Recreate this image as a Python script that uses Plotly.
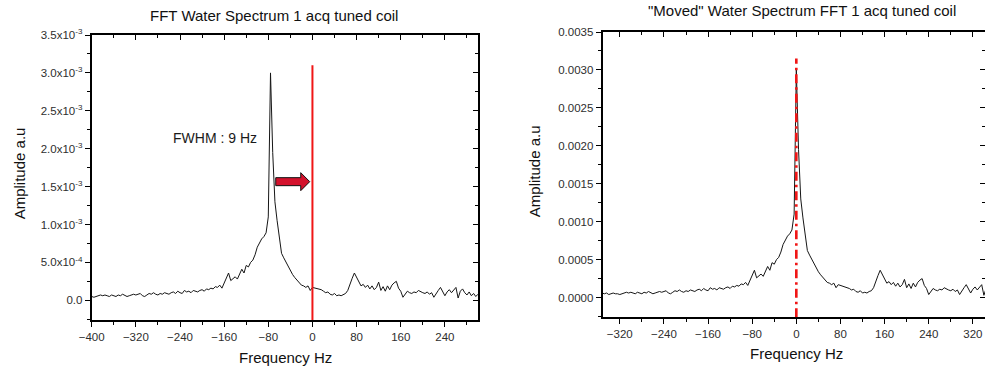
import numpy as np
import plotly.graph_objects as go

# ---------------------------------------------------------------------------
# Data: magnitude spectrum of the water signal (1 acquisition, tuned coil)
# ---------------------------------------------------------------------------
FREQ_START_HZ = -428
FREQ_STEP_HZ = 4

# amplitude in units of 1e-4 a.u., one value per 4 Hz bin starting at -428 Hz
amp_e4 = [
    0.6, 0.5, 0.6, 0.4, 0.5, 0.6, 0.5, 0.5, 0.4, 0.5,   # -428 .. -392
    0.7, 0.7, 0.6, 0.7, 0.6, 0.5, 0.7, 0.6, 0.5, 0.7,   # -388 .. -352
    0.6, 0.8, 0.7, 0.5, 0.6, 0.7, 0.8, 0.7, 0.8, 0.9,   # -348 .. -312
    0.6, 0.5, 0.7, 0.9, 0.8, 1.0, 0.8, 0.7, 0.9, 0.8,   # -308 .. -272
    1.0, 0.9, 0.8, 1.0, 1.1, 0.9, 1.2, 1.0, 0.9, 1.3,   # -268 .. -232
    1.1, 1.2, 1.0, 1.3, 1.2, 1.1, 1.3, 1.4, 1.2, 1.5,   # -228 .. -192
    1.4, 1.6, 1.5, 1.8, 1.7, 2.0, 1.6, 2.2, 2.9, 3.6,   # -188 .. -152
    2.6, 2.9, 3.1, 2.8, 3.5, 4.1, 3.6, 4.6, 4.4, 5.0,   # -148 .. -112
    5.3, 6.0, 7.0, 7.6, 8.1, 8.4, 8.9, 11.0, 30.0, 19.5,  # -108 .. -72
    13.0, 10.5, 8.3, 6.2, 5.6, 5.0, 4.5, 3.8, 3.4, 3.0,  # -68 .. -32
    2.7, 2.3, 2.0, 1.9, 1.7, 1.9, 1.3, 1.7, 1.6, 1.6,   # -28 .. 8
    1.5, 1.4, 1.2, 1.0, 1.1, 0.8, 0.7, 0.9, 0.6, 0.7,   # 12 .. 48
    0.6, 0.8, 0.9, 1.3, 2.2, 2.9, 3.6, 3.0, 2.4, 1.9,   # 52 .. 88
    2.1, 1.7, 2.0, 1.5, 1.9, 1.4, 1.7, 2.4, 1.3, 1.8,   # 92 .. 128
    1.2, 1.9, 1.4, 2.0, 2.3, 2.5, 1.6, 1.2, 0.4, 0.8,   # 132 .. 168
    1.2, 1.0, 0.9, 1.1, 1.0, 1.3, 1.1, 1.0, 0.9, 1.1,   # 172 .. 208
    0.8, 1.0, 0.4, 0.9, 1.3, 1.7, 1.2, 0.6, 1.1, 1.4,   # 212 .. 248
    1.0, 1.3, 1.7, 0.3, 1.2, 1.5, 1.0, 0.7, 1.1, 0.6,   # 252 .. 288
    0.9, 0.5, 0.8,                                      # 292 .. 300
]

freq_hz = FREQ_START_HZ + FREQ_STEP_HZ * np.arange(len(amp_e4))
amplitude = np.array(amp_e4) * 1e-4

# frequency offset applied to put the water line on 0 Hz
shift_hz = 76
target_freq_hz = 0

titles = ["FFT Water Spectrum 1 acq tuned coil",
          "\"Moved\" Water Spectrum FFT 1 acq tuned coil"]
x_title = "Frequency Hz"
y_title = "Amplitude a.u"
fwhm_text = "FWHM : 9 Hz"

x_range_left = [-400, 300]
x_range_right = [-351, 342]
y_range = [-0.00026, 0.0035]

y_tick_vals = [0.0, 0.0005, 0.0010, 0.0015, 0.0020, 0.0025, 0.0030, 0.0035]
y_tick_text_left = ["0.0", "5.0x10<sup>-4</sup>", "1.0x10<sup>-3</sup>",
                    "1.5x10<sup>-3</sup>", "2.0x10<sup>-3</sup>",
                    "2.5x10<sup>-3</sup>", "3.0x10<sup>-3</sup>",
                    "3.5x10<sup>-3</sup>"]
y_tick_text_right = ["0.0000", "0.0005", "0.0010", "0.0015", "0.0020",
                     "0.0025", "0.0030", "0.0035"]

# ---------------------------------------------------------------------------
# Styling / layout
# ---------------------------------------------------------------------------
W, H = 985, 368
FONT = "Liberation Sans, Arial, sans-serif"
TICK_FONT = dict(family=FONT, size=11.5, color="#2e2e2e")
RED = "#f01616"


def px_x(p):
    return p / W


def px_y(p):
    return 1 - p / H


dom_x1 = [px_x(91.7), px_x(478.0)]
dom_y1 = [px_y(320.0), px_y(35.0)]
dom_x2 = [px_x(602.7), 1.0]
dom_y2 = [px_y(317.3), px_y(32.0)]


def bottom_axis(domain, anchor, rng, tick0):
    return dict(domain=domain, anchor=anchor, range=rng, automargin=False,
                tickmode="linear", tick0=tick0, dtick=80,
                ticks="outside", ticklen=5, tickwidth=1.3, tickcolor="black",
                showline=True, linewidth=2, linecolor="black",
                showgrid=False, zeroline=False, tickfont=TICK_FONT,
                minor=dict(ticks="outside", ticklen=3, tickwidth=1.2,
                           tickcolor="black", tickmode="linear",
                           tick0=tick0, dtick=40))


def top_axis(over, anchor, tick0):
    return dict(overlaying=over, matches=over, anchor=anchor, side="top",
                automargin=False,
                tickmode="linear", tick0=tick0, dtick=80,
                ticks="inside", ticklen=5, tickwidth=1.3, tickcolor="black",
                showticklabels=False, showline=True, linewidth=1.5,
                linecolor="black", showgrid=False, zeroline=False,
                minor=dict(ticks="inside", ticklen=3, tickwidth=1.2,
                           tickcolor="black", tickmode="linear",
                           tick0=tick0, dtick=40))


def left_axis(domain, anchor, ticktext):
    return dict(domain=domain, anchor=anchor, range=y_range, automargin=False,
                tickmode="array", tickvals=y_tick_vals, ticktext=ticktext,
                ticks="outside", ticklen=5, tickwidth=1.3, tickcolor="black",
                showline=True, linewidth=2, linecolor="black",
                showgrid=False, zeroline=False, tickfont=TICK_FONT,
                minor=dict(ticks="outside", ticklen=3, tickwidth=1.2,
                           tickcolor="black", tickmode="linear",
                           tick0=0, dtick=0.00025))


def right_axis(over, anchor, show_line):
    return dict(overlaying=over, matches=over, anchor=anchor, side="right",
                automargin=False,
                tickmode="array", tickvals=y_tick_vals,
                ticks="inside", ticklen=5, tickwidth=1.3, tickcolor="black",
                showticklabels=False, showline=show_line, linewidth=1.5,
                linecolor="black", showgrid=False, zeroline=False,
                minor=dict(ticks="inside", ticklen=3, tickwidth=1.2,
                           tickcolor="black", tickmode="linear",
                           tick0=0, dtick=0.00025))


fig = go.Figure()

line_style = dict(color="#161616", width=1)
fig.add_trace(go.Scatter(x=freq_hz, y=amplitude, mode="lines",
                         line=line_style, xaxis="x", yaxis="y",
                         showlegend=False, hoverinfo="skip"))
fig.add_trace(go.Scatter(x=freq_hz + shift_hz, y=amplitude, mode="lines",
                         line=line_style, xaxis="x2", yaxis="y2",
                         showlegend=False, hoverinfo="skip"))
# empty traces so the mirrored frame axes get their own subplots
fig.add_trace(go.Scatter(x=[], y=[], xaxis="x3", yaxis="y3",
                         showlegend=False, hoverinfo="skip"))
fig.add_trace(go.Scatter(x=[], y=[], xaxis="x4", yaxis="y4",
                         showlegend=False, hoverinfo="skip"))

shapes = [
    # solid target line on the original spectrum
    dict(type="line", xref="x", yref="y",
         x0=target_freq_hz, x1=target_freq_hz, y0=y_range[0], y1=0.0031,
         line=dict(color=RED, width=2)),
    # dash-dot target line on the shifted spectrum
    dict(type="line", xref="x2", yref="y2",
         x0=target_freq_hz, x1=target_freq_hz, y0=y_range[0], y1=0.00315,
         line=dict(color=RED, width=2.6, dash="9px,4px,2.5px,4px")),
    # block arrow pointing from the peak to the target line
    dict(type="path", xref="x", yref="y",
         xsizemode="pixel", ysizemode="pixel",
         xanchor=-4.9, yanchor=0.001565,
         path="M -34,-4 L -9,-4 L -9,-9 L 0,0 L -9,9 L -9,4 L -34,4 Z",
         fillcolor="#d3122c", line=dict(color="#111111", width=1)),
]

title_font = dict(family=FONT, size=15, color="#111111")
axis_title_font = dict(family=FONT, size=15, color="#111111")

annotations = [
    dict(text=titles[0], xref="paper", yref="paper",
         x=px_x(273.5), y=px_y(15), xanchor="center", yanchor="middle",
         showarrow=False, font=title_font),
    dict(text=titles[1], xref="paper", yref="paper",
         x=px_x(802), y=px_y(11), xanchor="center", yanchor="middle",
         showarrow=False, font=title_font),
    dict(text=x_title, xref="paper", yref="paper",
         x=px_x(285), y=px_y(357), xanchor="center", yanchor="middle",
         showarrow=False, font=axis_title_font),
    dict(text=x_title, xref="paper", yref="paper",
         x=px_x(796.7), y=px_y(353.5), xanchor="center", yanchor="middle",
         showarrow=False, font=axis_title_font),
    dict(text=y_title, xref="paper", yref="paper", textangle=-90,
         x=px_x(19), y=px_y(173.3), xanchor="center", yanchor="middle",
         showarrow=False, font=axis_title_font),
    dict(text=y_title, xref="paper", yref="paper", textangle=-90,
         x=px_x(534.5), y=px_y(171.7), xanchor="center", yanchor="middle",
         showarrow=False, font=axis_title_font),
    dict(text=fwhm_text, xref="x", yref="y", x=-176, y=0.00214,
         xanchor="center", yanchor="middle", showarrow=False,
         font=dict(family=FONT, size=14, color="#1a1a1a")),
]

fig.update_layout(
    width=W, height=H, autosize=False,
    margin=dict(l=0, r=0, t=0, b=0, pad=0, autoexpand=False),
    paper_bgcolor="white", plot_bgcolor="white",
    font=dict(family=FONT, color="#2e2e2e"),
    xaxis=bottom_axis(dom_x1, "y", x_range_left, -400),
    yaxis=left_axis(dom_y1, "x", y_tick_text_left),
    xaxis2=bottom_axis(dom_x2, "y2", x_range_right, -320),
    yaxis2=left_axis(dom_y2, "x2", y_tick_text_right),
    xaxis3=top_axis("x", "y", -400),
    yaxis3=right_axis("y", "x", True),
    xaxis4=top_axis("x2", "y2", -320),
    yaxis4=right_axis("y2", "x2", False),
    shapes=shapes,
    annotations=annotations,
)

fig.write_html("out.html")
